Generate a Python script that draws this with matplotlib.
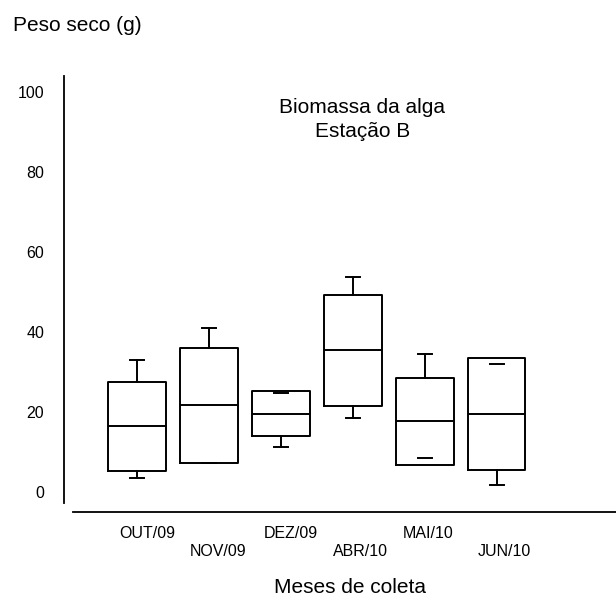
import matplotlib
matplotlib.use("Agg")
import matplotlib.pyplot as plt
from matplotlib.transforms import blended_transform_factory

# ---- data ----
months = ["OUT/09", "NOV/09", "DEZ/09", "ABR/10", "MAI/10", "JUN/10"]
whis_lo = [3.5, 7.2, 11.3, 18.5, 8.6, 1.9]
q1 = [5.3, 7.2, 14.0, 21.5, 6.8, 5.6]
median = [16.5, 21.9, 19.6, 35.4, 17.7, 19.5]
q3 = [27.5, 36.1, 25.2, 49.3, 28.6, 33.5]
whis_hi = [33.1, 40.9, 24.9, 53.8, 34.6, 32.0]
yticks = [0, 20, 40, 60, 80, 100]

W, H, DPI = 616, 597, 100
fig = plt.figure(figsize=(W / DPI, H / DPI), dpi=DPI)
fs_tick = 11.5
fs_text = 15
tick_font = "Liberation Sans"

def fx(px):
    return px / W

def fy(py):
    return 1 - py / H

ax = fig.add_axes([fx(64.3), fy(503), 1 - fx(64.3), fy(76) - fy(503)])
ax.set_ylim(-2.67, 103.9)
ax.set_xlim(-0.014, 7.659)

stats = []
for i, m in enumerate(months):
    stats.append(dict(label=m, whislo=whis_lo[i], q1=q1[i], med=median[i],
                      q3=q3[i], whishi=whis_hi[i], fliers=[]))
positions = list(range(1, len(months) + 1))
lw = 1.4
art = ax.bxp(stats, positions=positions, widths=0.8, capwidths=0.2,
             showfliers=False, patch_artist=False,
             boxprops=dict(color="black", linewidth=lw),
             whiskerprops=dict(color="black", linewidth=lw),
             capprops=dict(color="black", linewidth=lw),
             medianprops=dict(color="black", linewidth=lw))
# whiskers lying inside the box are not drawn
for i in range(len(months)):
    lo_w = art["whiskers"][2 * i]
    hi_w = art["whiskers"][2 * i + 1]
    if whis_lo[i] >= q1[i]:
        lo_w.set_visible(False)
    if whis_hi[i] <= q3[i]:
        hi_w.set_visible(False)

for s in ["top", "right"]:
    ax.spines[s].set_visible(False)
ax.spines["left"].set_linewidth(1.3)
ax.spines["bottom"].set_linewidth(1.3)
ax.spines["bottom"].set_position(("outward", 9.3 * 72 / DPI))
ax.spines["bottom"].set_bounds(1 + (73.3 - 137.2) / 71.9, 7.659)

ax.set_yticks(yticks)
ax.set_yticklabels([str(v) for v in yticks], fontsize=fs_tick, family=tick_font)
ax.tick_params(axis="y", length=0, pad=20 * 72 / DPI)
ax.set_xticks([])

# x labels (staggered)
trans = blended_transform_factory(ax.transData, fig.transFigure)
label_off = [0.14, 0.13, 0.14, 0.11, 0.04, 0.11]
for i, m in enumerate(months):
    ypx = 533 if i % 2 == 0 else 552
    ax.text(positions[i] + label_off[i], fy(ypx), m, transform=trans,
            ha="center", va="center", fontsize=fs_tick, family=tick_font)

fig.text(fx(13), fy(31), "Peso seco (g)", ha="left", va="baseline",
         fontsize=fs_text, family="Liberation Sans")
fig.text(fx(362), fy(113), "Biomassa da alga", ha="center", va="baseline",
         fontsize=fs_text, family="Liberation Sans")
fig.text(fx(363), fy(137), "Estação B", ha="center", va="baseline",
         fontsize=fs_text, family="Liberation Sans")
fig.text(fx(350), fy(593), "Meses de coleta", ha="center", va="baseline",
         fontsize=fs_text, family="Liberation Sans")

fig.savefig("out.png", dpi=DPI)
